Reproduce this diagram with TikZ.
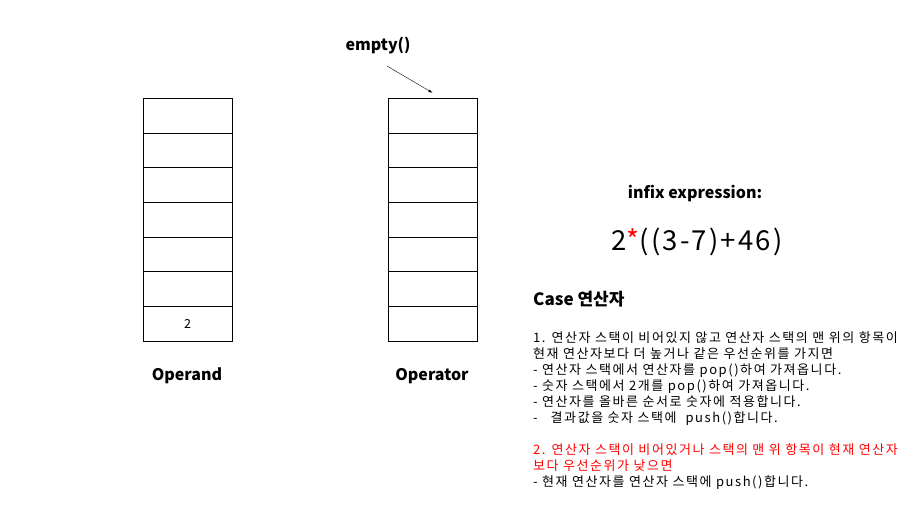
\documentclass[tikz,border=0pt]{standalone}
\usepackage{fontspec}
\setmainfont{Noto Sans CJK KR}
\newfontfamily\spacedfont[LetterSpace=12]{Noto Sans CJK KR}
\newfontfamily\exprfont[LetterSpace=8]{Noto Sans CJK KR}
\begin{document}
\begin{tikzpicture}
  [x=1pt,y=-1pt,
   cell/.style={draw,minimum width=89pt,minimum height=34.7pt,inner sep=0pt},
   title/.style={font=\bfseries\fontsize{16}{19}\selectfont},
   body/.style={font=\spacedfont\fontsize{13}{16}\selectfont,align=left,inner sep=0pt}]
  \useasboundingbox (0,0) rectangle (913,512);

  \foreach \i in {1,...,7} {
    \node[cell] (a\i) at (187.5,{98+34.7*(\i-0.5)}) {};
    \node[cell] (o\i) at (432.5,{98+34.7*(\i-0.5)}) {};
  }
  \node (two) at (a7) {\fontsize{12.5}{15}\selectfont 2};

  \node[title] (operand) at (187,376) {Operand};
  \node[title] (operator) at (432,376) {Operator};
  \node[title] (empty) at (378,46) {empty()};
  \coordinate (etail) at (387,66);

  \draw[-latex] (etail) -- ([yshift=5pt]o1.north);

  \node[title] (infix) at (695,194) {infix expression:};
  \node (expr) at (697,242) {\exprfont\fontsize{27.5}{32}\selectfont 2\textcolor{red}{*}((3-7)+46)};

  \node[font=\bfseries\fontsize{17}{20}\selectfont,anchor=base west,inner sep=0pt] (case) at (533,305) {Case 연산자};
  \node[body,anchor=north west] (rules) at (533,331) {%
    1. 연산자 스택이 비어있지 않고 연산자 스택의 맨 위의 항목이\\
    현재 연산자보다 더 높거나 같은 우선순위를 가지면\\
    - 연산자 스택에서 연산자를 pop()하여 가져옵니다.\\
    - 숫자 스택에서 2개를 pop()하여 가져옵니다.\\
    - 연산자를 올바른 순서로 숫자에 적용합니다.\\
    -\quad 결과값을 숫자 스택에 \ push()합니다.\\[16pt]
    \textcolor{red}{2. 연산자 스택이 비어있거나 스택의 맨 위 항목이 현재 연산자}\\
    \textcolor{red}{보다 우선순위가 낮으면}\\
    - 현재 연산자를 연산자 스택에 push()합니다.};
\end{tikzpicture}
\end{document}
